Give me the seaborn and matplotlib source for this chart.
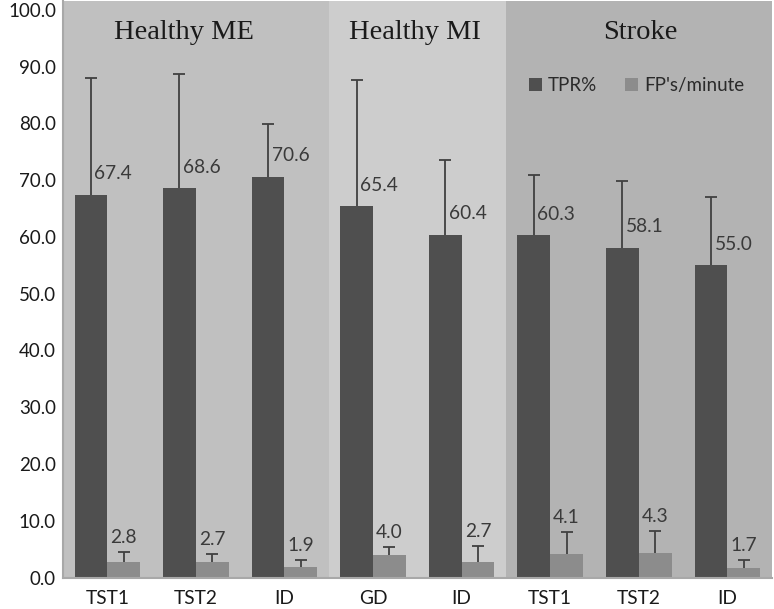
import numpy as np
import pandas as pd
import matplotlib
matplotlib.use("Agg")
import matplotlib.pyplot as plt
import seaborn as sns

# --- DATA ---
groups = ["Healthy ME", "Healthy MI", "Stroke"]
group_sizes = [3, 2, 3]
conditions = ["TST1", "TST2", "ID", "GD", "ID", "TST1", "TST2", "ID"]
tpr = [67.4, 68.6, 70.6, 65.4, 60.4, 60.3, 58.1, 55.0]
tpr_err = [20.6, 20.0, 9.3, 22.2, 13.2, 10.6, 11.7, 12.0]
fp = [2.8, 2.7, 1.9, 4.0, 2.7, 4.1, 4.3, 1.7]
fp_err = [1.7, 1.4, 1.2, 1.4, 2.8, 3.9, 3.9, 1.3]
series = ["TPR%", "FP's/minute"]

# --- STYLE ---
sns.set_theme(style="white")
plt.rcParams["font.family"] = ["Lato", "DejaVu Sans"]
dark = "#4f4f4f"
light = "#8c8c8c"
text_col = "#3a3a3a"
group_bg = ["#c0c0c0", "#cdcdcd", "#b3b3b3"]
title_pos = [0.87, 3.47, 6.02]

# long table for seaborn
keys = [f"{i}_{c}" for i, c in enumerate(conditions)]
df = pd.DataFrame({
    "key": keys * 2,
    "value": tpr + fp,
    "series": [series[0]] * len(keys) + [series[1]] * len(keys),
})

fig = plt.figure(figsize=(7.74, 6.09), dpi=100)
ax = fig.add_axes([0.0814, 0.0517, 0.9156, 0.9463])

# shaded group backgrounds + group titles
start = 0
for name, n, bg, tx in zip(groups, group_sizes, group_bg, title_pos):
    ax.axvspan(start - 0.5, start + n - 0.5, color=bg, zorder=0, lw=0)
    ax.text(tx, 96.0, name, ha="center", va="center", fontsize=20.5,
            family="Liberation Serif", color="#1a1a1a")
    start += n

sns.barplot(data=df, x="key", y="value", hue="series", order=keys,
            hue_order=series, palette=[dark, light], width=0.74,
            errorbar=None, saturation=1, ax=ax, zorder=2, legend=True,
            edgecolor="none", linewidth=0)

# upper error bars and value labels
for cont, vals, errs, is_tpr in zip(ax.containers, [tpr, fp], [tpr_err, fp_err], [True, False]):
    xs = [p.get_x() + p.get_width() / 2 for p in cont.patches]
    _, caps, _ = ax.errorbar(xs, vals, yerr=[np.zeros(len(errs)), errs], fmt="none",
                             ecolor="#404040", elinewidth=1.3, capsize=4.5,
                             capthick=1.3, zorder=3)
    caps[0].set_visible(False)
    for x, v, e in zip(xs, vals, errs):
        if is_tpr:
            ax.annotate(f"{v:.1f}", (x, v), xytext=(2.5, 15), textcoords="offset points",
                        ha="left", va="center", fontsize=13.8, color=text_col, zorder=4)
        else:
            ax.annotate(f"{v:.1f}", (x, v + e), xytext=(0, 10.5), textcoords="offset points",
                        ha="center", va="center", fontsize=13.8, color=text_col, zorder=4)

ax.set_xlim(-0.5, len(keys) - 0.5)
ax.set_ylim(0, 101.5)
ax.set_yticks(np.arange(0, 101, 10))
ax.set_yticklabels([f"{t:.1f}" for t in np.arange(0, 101, 10)], fontsize=13.5, color="#1a1a1a")
ax.set_xticks(range(len(keys)))
ax.set_xticklabels(conditions, fontsize=13.8, color="#1a1a1a")
ax.tick_params(axis="both", length=0, pad=5)
ax.tick_params(axis="x", pad=9)
ax.set_xlabel("")
ax.set_ylabel("")

for s in ["top", "right"]:
    ax.spines[s].set_visible(False)
for s in ["left", "bottom"]:
    ax.spines[s].set_color("#a8a8a8")
    ax.spines[s].set_linewidth(1.5)

leg = ax.legend(loc="upper right", bbox_to_anchor=(0.985, 0.898), ncol=2, frameon=False,
                fontsize=13.5, handlelength=0.7, handleheight=0.7, handletextpad=0.3,
                columnspacing=1.5)
for t in leg.get_texts():
    t.set_color("#2a2a2a")

fig.savefig("out.png", dpi=100)
